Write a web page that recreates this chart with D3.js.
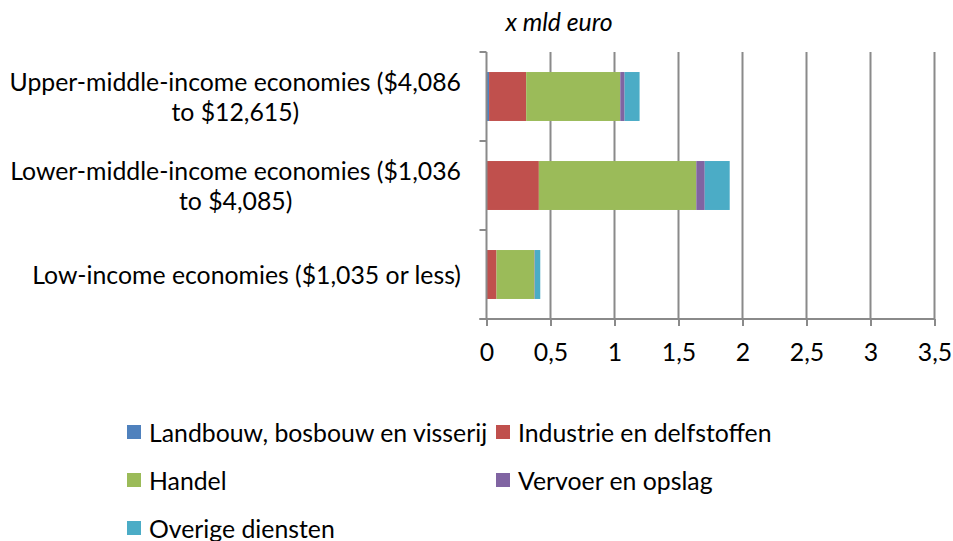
<!DOCTYPE html>
<html>
<head>
<meta charset="utf-8">
<script src="https://cdn.jsdelivr.net/npm/d3@7"></script>
<style>
  body { margin: 0; background: #fff; }
  svg { display: block; font-family: Lato, "Open Sans", sans-serif; }
</style>
</head>
<body>
<div id="chart"></div>
<script>
// data (x mld euro)
const categories = [
  "Upper-middle-income economies ($4,086\nto $12,615)",
  "Lower-middle-income economies ($1,036\nto $4,085)",
  "Low-income economies ($1,035 or less)",
];
const seriesNames = [
  "Landbouw, bosbouw en visserij",
  "Industrie en delfstoffen",
  "Handel",
  "Vervoer en opslag",
  "Overige diensten",
];
const landbouw = [0.02, 0.004, 0.002];
const industrie = [0.29, 0.405, 0.076];
const handel = [0.735, 1.23, 0.297];
const vervoer = [0.034, 0.066, 0.003];
const overige = [0.117, 0.195, 0.042];
const xTicks = [0, 0.5, 1, 1.5, 2, 2.5, 3, 3.5];
const colors = ["#4F81BD", "#C0504D", "#9BBB59", "#8064A2", "#4BACC6"];

const W = 953, H = 541;
const PLOT = { LEFT: 486.5, RIGHT: 934.5, TOP: 52, BOTTOM: 319 };
const GRID = "#8a8a8a";
const FS = 24.8;

const svg = d3.select("#chart").append("svg").attr("width", W).attr("height", H);

const table = categories.map((c, i) => ({
  cat: c,
  [seriesNames[0]]: landbouw[i],
  [seriesNames[1]]: industrie[i],
  [seriesNames[2]]: handel[i],
  [seriesNames[3]]: vervoer[i],
  [seriesNames[4]]: overige[i],
}));
const stacked = d3.stack().keys(seriesNames)(table);

const x = d3.scaleLinear().domain([0, 3.5]).range([PLOT.LEFT, PLOT.RIGHT]);
const y = d3
  .scaleBand()
  .domain(categories)
  .range([PLOT.TOP, PLOT.BOTTOM])
  .paddingInner(0.45)
  .paddingOuter(0.225);
const color = d3.scaleOrdinal().domain(seriesNames).range(colors);

// vertical gridlines
svg
  .append("g")
  .selectAll("line")
  .data(xTicks.slice(1))
  .join("line")
  .attr("x1", (d) => x(d))
  .attr("x2", (d) => x(d))
  .attr("y1", PLOT.TOP)
  .attr("y2", PLOT.BOTTOM)
  .attr("stroke", GRID)
  .attr("stroke-width", 2);

// bars
svg
  .append("g")
  .selectAll("g")
  .data(stacked)
  .join("g")
  .attr("fill", (d) => color(d.key))
  .selectAll("rect")
  .data((d) => d)
  .join("rect")
  .attr("x", (d) => x(d[0]))
  .attr("width", (d) => x(d[1]) - x(d[0]))
  .attr("y", (d) => y(d.data.cat))
  .attr("height", y.bandwidth());

// x axis
const xAxis = svg
  .append("g")
  .attr("transform", `translate(0,${PLOT.BOTTOM})`)
  .call(
    d3
      .axisBottom(x)
      .tickValues(xTicks)
      .tickSize(7)
      .tickSizeOuter(0)
      .tickPadding(17)
      .tickFormat((d) => String(d).replace(".", ","))
  );
xAxis.select(".domain").remove();
xAxis
  .append("line")
  .attr("x1", PLOT.LEFT - 7)
  .attr("x2", PLOT.RIGHT)
  .attr("stroke", GRID)
  .attr("stroke-width", 2);
xAxis.selectAll(".tick line").attr("stroke", GRID).attr("stroke-width", 2);
xAxis
  .selectAll(".tick text")
  .attr("fill", "#000")
  .attr("font-size", FS)
  .attr("font-family", "Lato, sans-serif");

// y axis (category)
const catTicks = [PLOT.TOP].concat(categories.map((c) => y(c) + y.bandwidth() + (y.step() - y.bandwidth()) / 2));
const yAxis = svg.append("g");
yAxis
  .append("line")
  .attr("x1", PLOT.LEFT)
  .attr("x2", PLOT.LEFT)
  .attr("y1", PLOT.TOP)
  .attr("y2", PLOT.BOTTOM)
  .attr("stroke", GRID)
  .attr("stroke-width", 2);
yAxis
  .selectAll(".ctick")
  .data(catTicks)
  .join("line")
  .attr("class", "ctick")
  .attr("x1", PLOT.LEFT - 7)
  .attr("x2", PLOT.LEFT)
  .attr("y1", (d) => d)
  .attr("y2", (d) => d)
  .attr("stroke", GRID)
  .attr("stroke-width", 2);

// category labels: block right-aligned to the axis, lines centred in the block
const labelRight = 461, lineH = 29.5;
categories.forEach((c) => {
  const lines = c.split("\n");
  const g = svg.append("g");
  const texts = lines.map((l, i) =>
    g
      .append("text")
      .text(l)
      .attr("font-size", FS)
      .attr("fill", "#000")
      .attr("text-anchor", "middle")
      .attr("dominant-baseline", "central")
      .attr("y", y(c) + y.bandwidth() / 2 + (i - (lines.length - 1) / 2) * lineH)
  );
  const bw = d3.max(texts, (t) => t.node().getComputedTextLength());
  texts.forEach((t) => t.attr("x", labelRight - bw / 2));
});

// unit title
svg
  .append("text")
  .attr("x", 559)
  .attr("y", 21)
  .attr("text-anchor", "middle")
  .attr("dominant-baseline", "central")
  .attr("font-style", "italic")
  .attr("font-size", FS)
  .attr("fill", "#000")
  .text("x mld euro");

// legend
const legend = svg
  .append("g")
  .selectAll("g")
  .data(seriesNames)
  .join("g")
  .attr("transform", (d, i) => `translate(${i % 2 ? 496 : 127},${432 + Math.floor(i / 2) * 48})`);
legend
  .append("rect")
  .attr("x", 0)
  .attr("y", -7)
  .attr("width", 14)
  .attr("height", 14)
  .attr("fill", (d) => color(d));
legend
  .append("text")
  .attr("x", 22)
  .attr("dominant-baseline", "central")
  .attr("font-size", FS)
  .attr("fill", "#000")
  .text((d) => d);
</script>
</body>
</html>
